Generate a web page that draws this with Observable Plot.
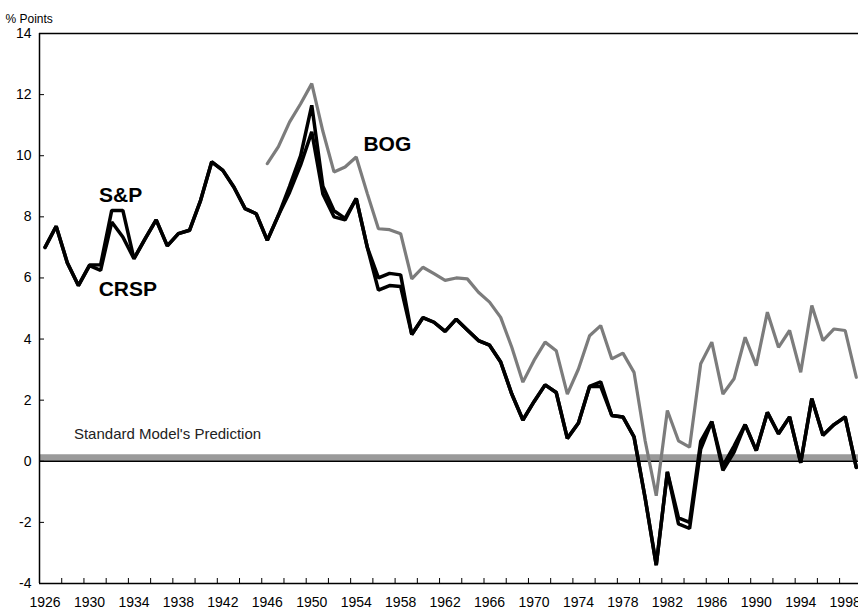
<!DOCTYPE html>
<html><head><meta charset="utf-8">
<script src="https://cdn.jsdelivr.net/npm/d3@7"></script>
<script src="https://cdn.jsdelivr.net/npm/@observablehq/plot@0.6"></script>
<style>
html,body{margin:0;padding:0;background:#fff;overflow:hidden;}
</style>
</head><body><div id="chart"></div>
<script>
// Years covered by the two long series
const years = d3.range(1926, 2000);
// S&P equity premium series (% points)
const sp = [
  7.0, 7.69, 6.5, 5.75, 6.42, 6.43, 8.21, 8.21, 6.63, 7.28,
  7.9, 7.05, 7.45, 7.56, 8.54, 9.8, 9.52, 8.97, 8.27, 8.1,
  7.23, 8.05, 9.0, 10.0, 11.65, 9.0, 8.2, 7.95, 8.6, 7.0,
  6.0, 6.15, 6.1, 4.15, 4.7, 4.55, 4.25, 4.65, 4.3, 3.95,
  3.8, 3.25, 2.2, 1.35, 1.95, 2.5, 2.25, 0.75, 1.25, 2.45,
  2.6, 1.5, 1.45, 0.8, -1.2, -3.4, -0.35, -1.85, -2.0, 0.65,
  1.3, -0.15, 0.5, 1.2, 0.35, 1.6, 0.9, 1.45, -0.05, 2.05,
  0.85, 1.2, 1.45, -0.2
];
// CRSP series (% points)
const crsp = [
  7.0, 7.69, 6.5, 5.75, 6.4, 6.25, 7.83, 7.34, 6.63, 7.28,
  7.9, 7.05, 7.45, 7.56, 8.54, 9.8, 9.52, 8.97, 8.27, 8.1,
  7.23, 8.05, 8.8, 9.7, 10.78, 8.75, 8.0, 7.9, 8.6, 7.0,
  5.6, 5.75, 5.72, 4.15, 4.7, 4.55, 4.25, 4.65, 4.3, 3.95,
  3.8, 3.25, 2.2, 1.35, 1.95, 2.5, 2.25, 0.75, 1.25, 2.45,
  2.45, 1.5, 1.45, 0.8, -1.2, -3.4, -0.35, -2.05, -2.2, 0.4,
  1.3, -0.3, 0.3, 1.2, 0.35, 1.6, 0.9, 1.45, -0.05, 2.05,
  0.85, 1.2, 1.45, -0.2
];
// BOG series starts in 1946
const bogYears = d3.range(1946, 2000);
const bog = [
  9.74, 10.3, 11.1, 11.7, 12.36, 10.8, 9.47, 9.63, 9.96, 8.76,
  7.61, 7.58, 7.45, 5.97, 6.35, 6.14, 5.92, 6.0, 5.97, 5.53,
  5.21, 4.71, 3.73, 2.59, 3.3, 3.9, 3.62, 2.2, 3.02, 4.11,
  4.44, 3.35, 3.54, 2.91, 0.67, -1.13, 1.66, 0.67, 0.46, 3.19,
  3.9, 2.2, 2.7, 4.06, 3.13, 4.88, 3.73, 4.28, 2.91, 5.1,
  3.95, 4.33, 4.28, 2.75
];
// Standard model's prediction (% points)
const prediction = [0.12];
const yTicks = [-4, -2, 0, 2, 4, 6, 8, 10, 12, 14];
const xLabelYears = d3.range(1926, 1999, 4);
const xTickBounds = d3.range(1927.5, 1999, 2);
// Series labels, anchored in data units
const seriesLabels = [
  {text: "S&P", year: 1932.8, value: 8.7},
  {text: "CRSP", year: 1933.45, value: 5.62},
  {text: "BOG", year: 1956.8, value: 10.37}
];
const predictionLabel = [{text: "Standard Model's Prediction", year: 1928.6, value: 0.9}];

const spData = years.map((y, i) => ({year: y, value: sp[i]}));
const crspData = years.map((y, i) => ({year: y, value: crsp[i]}));
const bogData = bogYears.map((y, i) => ({year: y, value: bog[i]}));

const chart = Plot.plot({
  width: 858,
  height: 609,
  marginTop: 33,
  marginBottom: 26,
  marginLeft: 39,
  marginRight: 0,
  x: {domain: [1925.5, 1999.2]},
  y: {domain: [-4, 14]},
  style: {fontFamily: "'Liberation Sans', Arial, sans-serif", background: "#fff", color: "#000"},
  marks: [
    Plot.ruleY(prediction, {stroke: "#9a9a9a", strokeWidth: 6.5}),
    Plot.ruleY([0], {stroke: "#000", strokeWidth: 1.5}),
    Plot.ruleY([14], {stroke: "#000", strokeWidth: 1.5}),
    Plot.ruleY([-4], {stroke: "#000", strokeWidth: 1.5}),
    Plot.ruleX([1925.5], {stroke: "#000", strokeWidth: 1.5}),
    Plot.axisY({ticks: yTicks, tickSize: 0, tickPadding: 8, fontSize: 14, tickFormat: d => String(d), label: null}),
    Plot.axisY({ticks: yTicks, tickSize: -5, tickFormat: () => "", label: null}),
    Plot.axisX({ticks: xLabelYears, tickSize: 0, tickPadding: 14, fontSize: 14, tickFormat: d => String(d), label: null}),
    Plot.axisX({ticks: xTickBounds, tickSize: -5, tickFormat: () => "", label: null}),
    Plot.line(bogData, {x: "year", y: "value", stroke: "#7c7c7c", strokeWidth: 3.2, strokeLinejoin: "miter"}),
    Plot.line(crspData, {x: "year", y: "value", stroke: "#000", strokeWidth: 3.5, strokeLinejoin: "miter"}),
    Plot.line(spData, {x: "year", y: "value", stroke: "#000", strokeWidth: 3.5, strokeLinejoin: "miter"}),
    Plot.text(seriesLabels, {x: "year", y: "value", text: "text", fontSize: 21, fontWeight: "bold"}),
    Plot.text(predictionLabel, {x: "year", y: "value", text: "text", fontSize: 15, textAnchor: "start", fill: "#222"}),
    Plot.text(["% Points"], {frameAnchor: "top-left", dx: -34, dy: -19, textAnchor: "start", fontSize: 12})
  ]
});
document.getElementById("chart").appendChild(chart);
</script>
</body></html>
